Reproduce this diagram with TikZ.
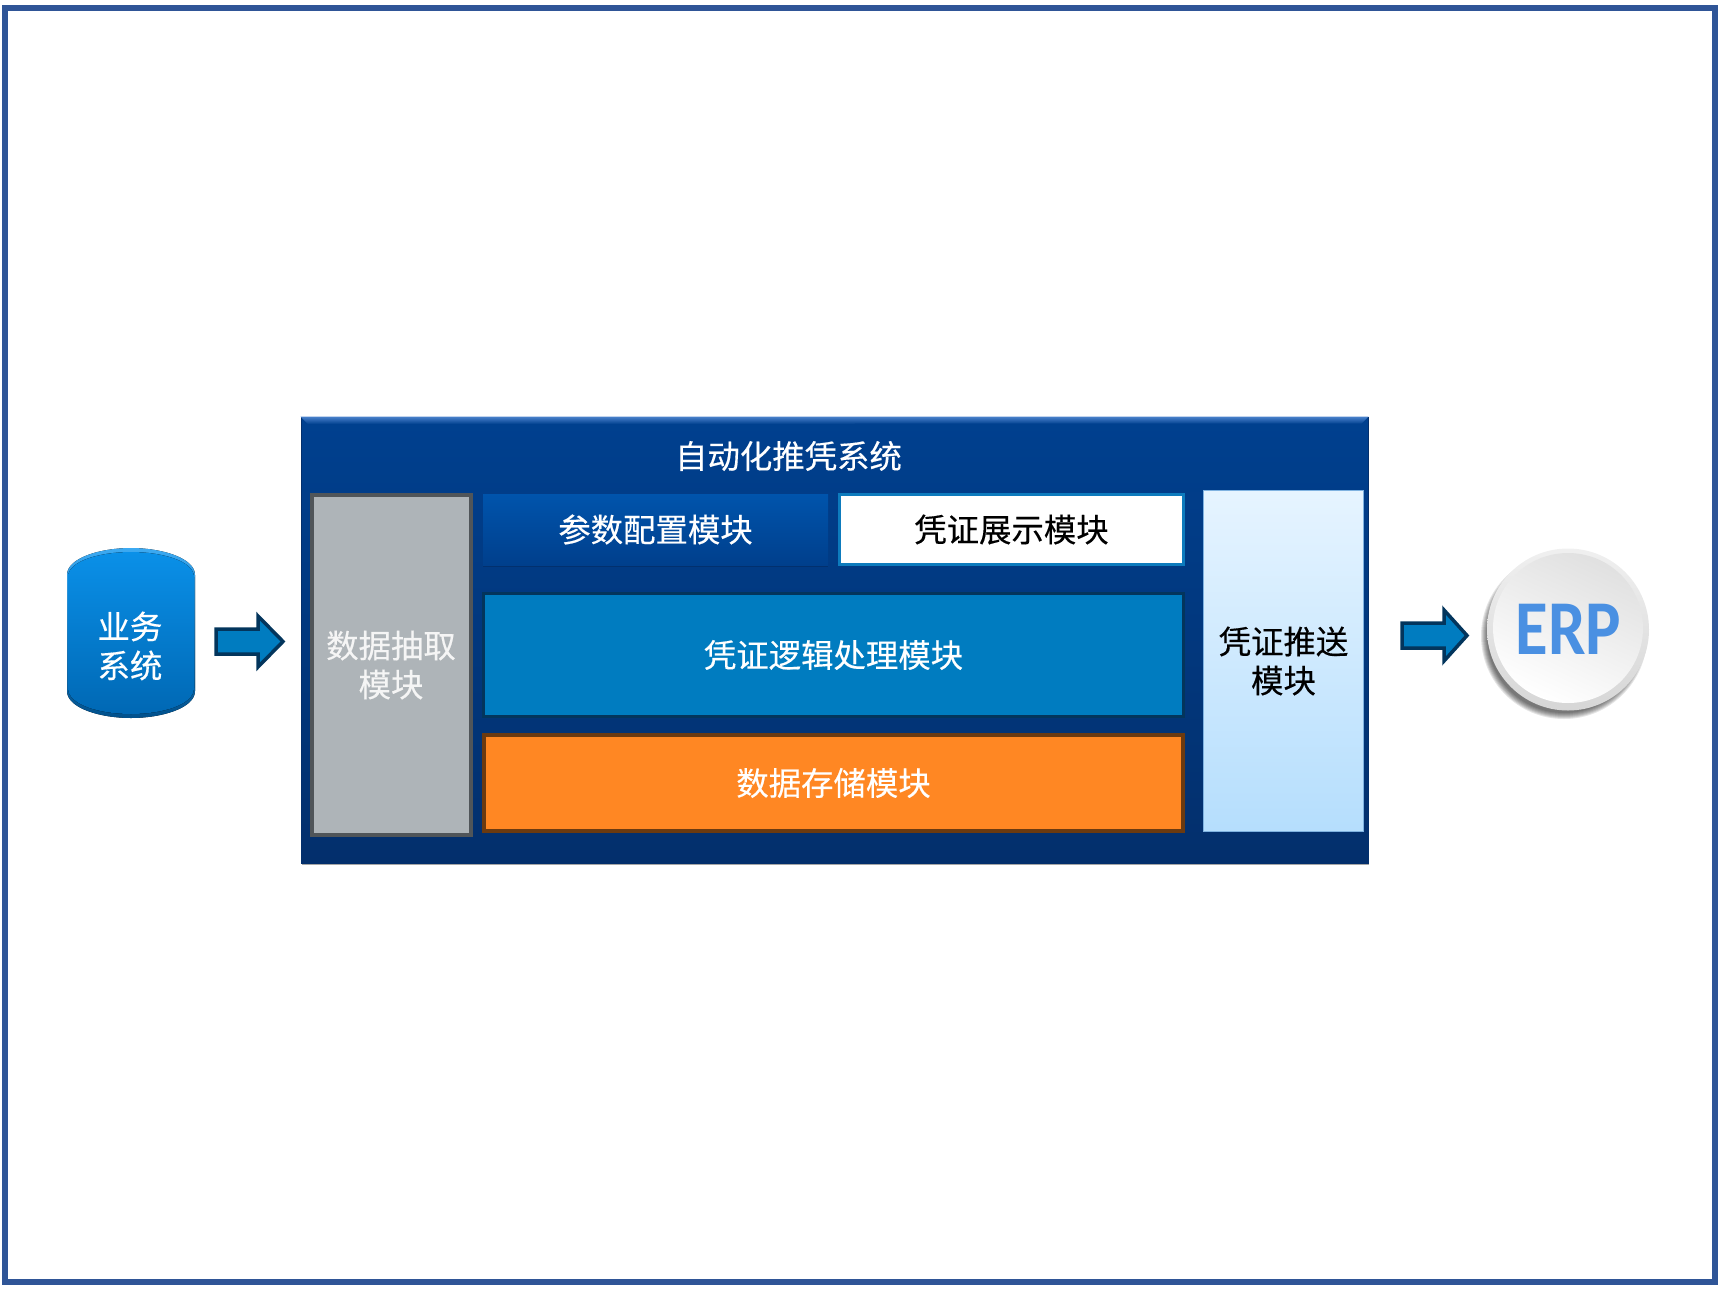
\documentclass[tikz,border=0pt]{standalone}
\usepackage{fontspec}
\usepackage{graphicx}
\setmainfont[FakeBold=0.35]{Noto Sans CJK SC}
\newfontfamily\erpfont{Carlito}
\usetikzlibrary{shadows}
\definecolor{dframe}{HTML}{2F5597}
\definecolor{dnavy}{HTML}{00408F}
\definecolor{dnavylow}{HTML}{032F6C}
\definecolor{dbevel}{HTML}{4A82CC}
\definecolor{dgray}{HTML}{AEB4B8}
\definecolor{dgrayline}{HTML}{505559}
\definecolor{dparam}{HTML}{0054AC}
\definecolor{dparamlow}{HTML}{003F8C}
\definecolor{dlogic}{HTML}{007CC0}
\definecolor{dlogicline}{HTML}{03355C}
\definecolor{dshow}{HTML}{0D7BBD}
\definecolor{dorange}{HTML}{FF8723}
\definecolor{dorangeline}{HTML}{6B3A10}
\definecolor{dpush}{HTML}{E6F4FF}
\definecolor{dpushlow}{HTML}{B5DEFD}
\definecolor{dpushline}{HTML}{7FB2E0}
\definecolor{dcyl}{HTML}{0A90E8}
\definecolor{dcyllow}{HTML}{0068B4}
\definecolor{dcylrim}{HTML}{3CAAF2}
\definecolor{dcylrimlow}{HTML}{00508C}
\definecolor{derp}{HTML}{4A90E2}
\tikzset{
  sized/.style 2 args={minimum width=#1*0.5pt, minimum height=#2*0.5pt, inner sep=0pt},
  label16/.style={font=\fontsize{16.2}{19.5}\selectfont, align=center},
  sysbox/.style={label16, draw=dnavylow, line width=0.5pt, top color=dnavy, bottom color=dnavylow,
    drop shadow={shadow xshift=0.6pt, shadow yshift=-0.8pt, fill=black, opacity=0.35}},
  grabbox/.style={label16, text=white!96!black, draw=dgrayline, line width=2pt, fill=dgray},
  parambox/.style={label16, text=white, top color=dparam, bottom color=dparamlow,
    drop shadow={shadow xshift=0pt, shadow yshift=-0.8pt, fill=dnavylow, opacity=0.9}},
  showbox/.style={label16, text=black, draw=dshow, line width=1.6pt, fill=white},
  logicbox/.style={label16, text=white, draw=dlogicline, line width=1.75pt, fill=dlogic},
  storebox/.style={label16, text=white, draw=dorangeline, line width=1.75pt, fill=dorange},
  pushbox/.style={label16, text=black, draw=dpushline, line width=0.5pt, top color=dpush, bottom color=dpushlow},
  blockarrow/.style={draw=dlogicline, line width=1.75pt, fill=dlogic, miter limit=4}
}

\begin{document}
\begin{tikzpicture}[x=0.5pt, y=-0.5pt]
\useasboundingbox (0,0) rectangle (1726,1292);
\draw[dframe, line width=3pt] (5,8) rectangle (1715,1282);
% source cylinder
\fill[top color=dcylrim, bottom color=dcylrimlow]
  (67,575) .. controls (67,558) and (100,548) .. (131,548) .. controls (162,548) and (195,558) .. (195,575)
  -- (195,691) .. controls (195,708) and (162,718) .. (131,718) .. controls (100,718) and (67,708) .. (67,691) -- cycle;
\fill[top color=dcyl, bottom color=dcyllow]
  (68,577) .. controls (68,561) and (100,552) .. (131,552) .. controls (162,552) and (194,561) .. (194,577)
  -- (194,688) .. controls (194,705) and (162,714) .. (131,714) .. controls (100,714) and (68,705) .. (68,688) -- cycle;
\node[label16, text=white] (bizsys) at (130,646) {业务\\系统};
% main panel
\node[sysbox, sized={1067}{446}] (sysmain) at (834.5,640) {};
\shade[top color=dbevel, bottom color=dnavy] (sysmain.north west) -- (sysmain.north east) -- ++(-7,7) -- (308,424) -- cycle;
\node[label16, text=white] (systitle) at (788.5,456) {自动化推凭系统};
\node[grabbox, sized={159}{340}] (grab) at (391,665) {数据抽取\\模块};
\node[parambox, sized={345}{71}] (param) at (655.5,529.5) {参数配置模块};
\node[showbox, sized={344}{70}] (show) at (1011.5,529.5) {凭证展示模块};
\node[logicbox, sized={700}{123}] (logic) at (833.5,655) {凭证逻辑处理模块};
\node[storebox, sized={699}{96}] (store) at (833.5,783) {数据存储模块};
\node[pushbox, sized={160}{341}] (push) at (1283.5,661) {凭证推送\\模块};
% block arrows
\draw[blockarrow] (216,629) -- (258,629) -- (258,616) -- (283,641.5) -- (258,667) -- (258,654) -- (216,654) -- cycle;
\draw[blockarrow] (1402,623) -- (1444,623) -- (1444,610) -- (1467,635.5) -- (1444,661) -- (1444,648) -- (1402,648) -- cycle;
% erp disc
\foreach \r in {77,78,79,80,81,82,83}
  \fill[black, opacity=0.1] (1564,636) circle (\r);
\shade[top color=black!6, bottom color=black!16] (1568,629.5) circle (81);
\shade[top color=black!12, bottom color=white, shading angle=-25] (1568,628) circle (75);
\node[text=derp, font=\erpfont\bfseries\fontsize{38.8}{40}\selectfont, inner sep=0pt] (erp) at (1568.5,629)
  {\scalebox{0.86}[1]{ERP}};
\end{tikzpicture}
\end{document}
